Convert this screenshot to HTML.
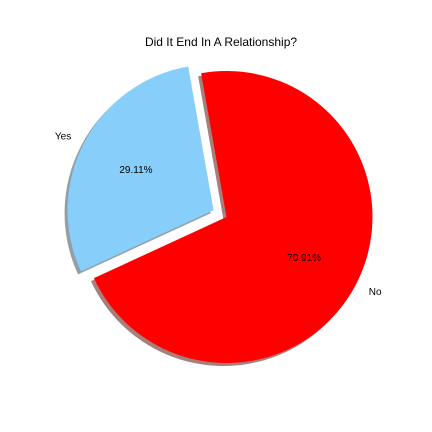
<!DOCTYPE html>
<html><head><meta charset="utf-8"><style>
body{margin:0;background:#fff}
svg{display:block;font-family:"Liberation Sans","DejaVu Sans",sans-serif}
</style></head><body>
<svg id="chart" width="432" height="432" viewBox="0 0 432 432">
<text x="221" y="46" text-anchor="middle" font-size="12">Did It End In A Relationship?</text>
<g id="shadows"></g><g id="wedges"></g><g id="labels"></g>
</svg>
<script>
const labels = ["Yes", "No"];
const values = [29.11, 70.91];
const explode = [0.1, 0];
const colors = ["#87cefa", "#ff0000"];
const shadeColors = ["rgba(40,62,75,0.5)", "rgba(77,0,0,0.5)"];
const startAngle = 100;

const cx = 226.5, cy = 217, R = 146;
const NS = "http://www.w3.org/2000/svg";
const total = values.reduce((a, b) => a + b, 0);
function pt(x, y, deg, r) { const a = deg * Math.PI / 180; return [x + r * Math.cos(a), y - r * Math.sin(a)]; }
function wedgePath(x, y, a0, a1) {
  const p0 = pt(x, y, a0, R), p1 = pt(x, y, a1, R);
  const large = (a1 - a0) > 180 ? 1 : 0;
  return `M${x},${y} L${p0[0]},${p0[1]} A${R},${R} 0 ${large} 0 ${p1[0]},${p1[1]} Z`;
}
let a = startAngle;
const sh = document.getElementById('shadows'), wg = document.getElementById('wedges'), lb = document.getElementById('labels');
values.forEach((v, i) => {
  const span = v / total * 360, a0 = a, a1 = a + span, mid = (a0 + a1) / 2;
  const [ox, oy] = pt(cx, cy, mid, explode[i] * R);
  const s = document.createElementNS(NS, 'path');
  s.setAttribute('d', wedgePath(ox - 3, oy + 3, a0, a1));
  s.setAttribute('fill', shadeColors[i]);
  
  
  sh.appendChild(s);
  const w = document.createElementNS(NS, 'path');
  w.setAttribute('d', wedgePath(ox, oy, a0, a1));
  w.setAttribute('fill', colors[i]);
  
  
  wg.appendChild(w);
  const [lx, ly] = pt(ox, oy, mid, 1.1 * R);
  const t = document.createElementNS(NS, 'text');
  t.setAttribute('x', lx); t.setAttribute('y', ly + 3.5);
  t.setAttribute('font-size', '10');
  t.setAttribute('text-anchor', Math.cos(mid * Math.PI / 180) < 0 ? 'end' : 'start');
  t.textContent = labels[i];
  
  
  lb.appendChild(t);
  const [px, py] = pt(ox, oy, mid, 0.6 * R);
  const p = document.createElementNS(NS, 'text');
  p.setAttribute('x', px); p.setAttribute('y', py + 3.5);
  p.setAttribute('font-size', '10'); p.setAttribute('text-anchor', 'middle');
  p.textContent = v.toFixed(2) + '%';
  
  
  lb.appendChild(p);
  a = a1;
});
</script>
</body></html>
